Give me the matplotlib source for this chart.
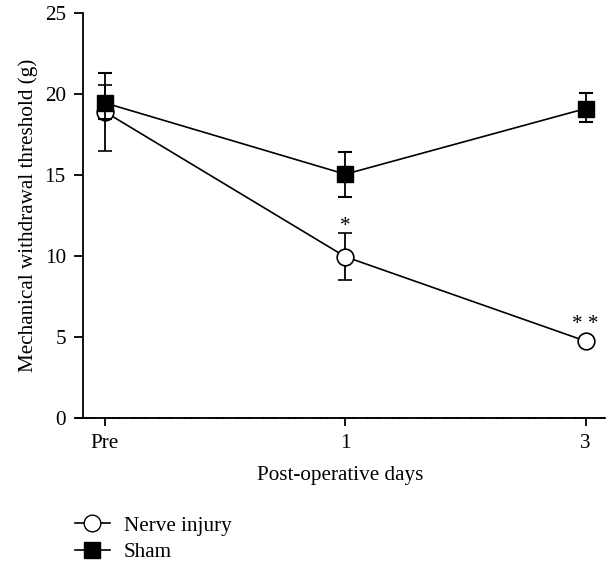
import matplotlib.pyplot as plt
from matplotlib.lines import Line2D
import numpy as np

plt.rcParams['font.family'] = ['Liberation Serif', 'DejaVu Serif']

# data
days = ['Pre', '1', '3']
nerve_mean = [18.9, 9.96, 4.75]
nerve_err_lo = [2.4, 1.44, 0.0]
nerve_err_hi = [1.65, 1.44, 0.0]
sham_mean = [19.45, 15.05, 19.1]
sham_err_lo = [1.0, 1.38, 0.85]
sham_err_hi = [1.85, 1.38, 0.95]

x = np.arange(len(days))
fs = 15.2

fig = plt.figure(figsize=(6.08, 5.62), dpi=100)
ax = fig.add_axes([0.125, 0.256, 0.87, 0.721])

ax.errorbar(x, nerve_mean, yerr=[nerve_err_lo, nerve_err_hi], color='black',
            marker='o', markersize=12, markerfacecolor='white',
            markeredgecolor='black', markeredgewidth=1.2, linewidth=1.2,
            capsize=5, capthick=1.5, elinewidth=1.3, zorder=3)
ax.errorbar(x, sham_mean, yerr=[sham_err_lo, sham_err_hi], color='black',
            marker='s', markersize=11, markerfacecolor='black',
            markeredgecolor='black', linewidth=1.2,
            capsize=5, capthick=1.5, elinewidth=1.3, zorder=4)

# significance marks
ax.text(1, 11.8, '*', ha='center', va='center', fontsize=fs)
ax.text(2, 5.8, '* *', ha='center', va='center', fontsize=fs)

ax.set_xlim(-0.12, 2.08)
ax.set_ylim(0, 25)
ax.spines['left'].set_position(('data', -0.09))
ax.spines['top'].set_visible(False)
ax.spines['right'].set_visible(False)
ax.spines['left'].set_linewidth(1.3)
ax.spines['bottom'].set_linewidth(1.3)
ax.spines['bottom'].set_linestyle((0, (1, 0.6)))

ax.set_xticks(x)
ax.set_xticklabels(days)
ax.set_yticks([0, 5, 10, 15, 20, 25])
ax.tick_params(axis='both', labelsize=fs, width=1.3, direction='out')
ax.tick_params(axis='y', length=6.5, pad=6)
ax.tick_params(axis='x', length=5.5, pad=6)

ax.set_xlabel('Post-operative days', fontsize=fs, labelpad=9)
ax.set_ylabel('Mechanical withdrawal threshold (g)', fontsize=fs, labelpad=5)

handles = [
    Line2D([], [], color='black', linewidth=1.2, marker='o', markersize=12,
           markerfacecolor='white', markeredgecolor='black'),
    Line2D([], [], color='black', linewidth=1.2, marker='s', markersize=11,
           markerfacecolor='black'),
]
fig.legend(handles, ['Nerve injury', 'Sham'], loc='upper left',
           bbox_to_anchor=(0.123, 0.082), bbox_transform=fig.transFigure,
           frameon=False, fontsize=fs, handlelength=1.66, handletextpad=0.66,
           labelspacing=0.32, borderaxespad=0, borderpad=0)

fig.savefig('out.png', dpi=100)
